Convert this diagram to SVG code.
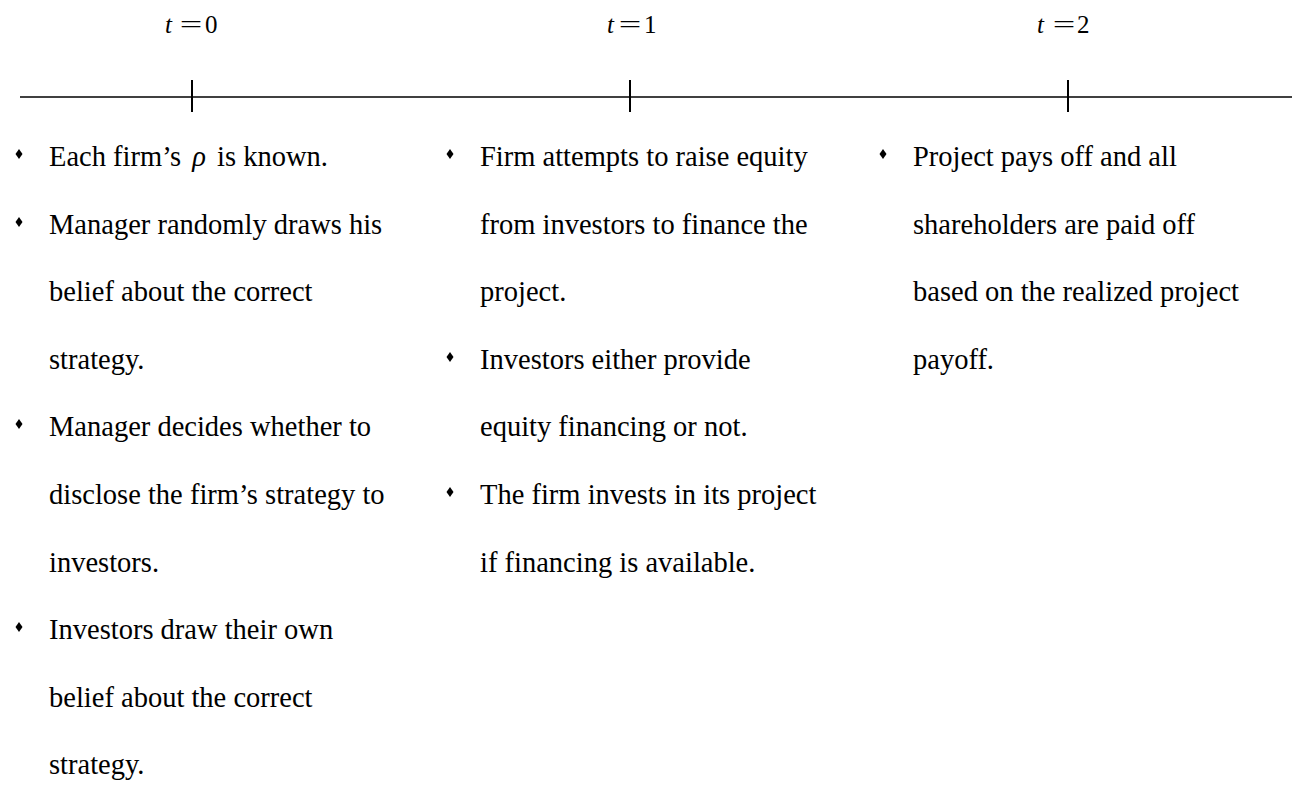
<svg xmlns="http://www.w3.org/2000/svg" width="1292" height="787" viewBox="0 0 1292 787">
<defs>
<style>
.t{font-family:"Liberation Serif","Times New Roman",serif;font-size:28.5px;fill:#000}
.lab{font-family:"Liberation Serif","Times New Roman",serif;font-size:25px;fill:#000}
.it{font-style:italic}
.ax{stroke:#000;stroke-width:1.6;fill:none}
.tk{stroke:#000;stroke-width:2;fill:none}
</style>
<polygon id="b" points="0,-5 3.5,0 0,5 -3.5,0" fill="#000"/>
</defs>
<rect width="1292" height="787" fill="#fff"/>
<g id="connectors">
<line class="ax" x1="20" y1="97" x2="1292" y2="97"/>
<line class="tk" x1="192" y1="80" x2="192" y2="112"/>
<line class="tk" x1="630" y1="80" x2="630" y2="112"/>
<line class="tk" x1="1068" y1="80" x2="1068" y2="112"/>
</g>
<g id="t0">
<text class="lab it" x="165" y="33">t</text>
<text class="lab" transform="translate(191,33) scale(1.6,1)" text-anchor="middle">=</text>
<text class="lab" x="205" y="33">0</text>
</g>
<g id="t1">
<text class="lab it" x="607" y="33">t</text>
<text class="lab" transform="translate(630,33) scale(1.6,1)" text-anchor="middle">=</text>
<text class="lab" x="644" y="33">1</text>
</g>
<g id="t2">
<text class="lab it" x="1037" y="33">t</text>
<text class="lab" transform="translate(1064,33) scale(1.6,1)" text-anchor="middle">=</text>
<text class="lab" x="1077" y="33">2</text>
</g>
<g id="col0">
<use href="#b" x="19" y="154"/>
<use href="#b" x="19" y="222"/>
<use href="#b" x="19" y="424"/>
<use href="#b" x="19" y="627"/>
<text class="t" x="49" y="166">Each firm’s <tspan class="it" dx="4">ρ</tspan><tspan dx="4"> is known.</tspan></text>
<text class="t" x="49" y="234">Manager randomly draws his</text>
<text class="t" x="49" y="301">belief about the correct</text>
<text class="t" x="49" y="369">strategy.</text>
<text class="t" x="49" y="436">Manager decides whether to</text>
<text class="t" x="49" y="504">disclose the firm’s strategy to</text>
<text class="t" x="49" y="572">investors.</text>
<text class="t" x="49" y="639">Investors draw their own</text>
<text class="t" x="49" y="707">belief about the correct</text>
<text class="t" x="49" y="774">strategy.</text>
</g>
<g id="col1">
<use href="#b" x="450" y="154"/>
<use href="#b" x="450" y="357"/>
<use href="#b" x="450" y="492"/>
<text class="t" x="480" y="166">Firm attempts to raise equity</text>
<text class="t" x="480" y="234">from investors to finance the</text>
<text class="t" x="480" y="301">project.</text>
<text class="t" x="480" y="369">Investors either provide</text>
<text class="t" x="480" y="436">equity financing or not.</text>
<text class="t" x="480" y="504">The firm invests in its project</text>
<text class="t" x="480" y="572">if financing is available.</text>
</g>
<g id="col2">
<use href="#b" x="883" y="154"/>
<text class="t" x="913" y="166">Project pays off and all</text>
<text class="t" x="913" y="234">shareholders are paid off</text>
<text class="t" x="913" y="301">based on the realized project</text>
<text class="t" x="913" y="369">payoff.</text>
</g>
</svg>
